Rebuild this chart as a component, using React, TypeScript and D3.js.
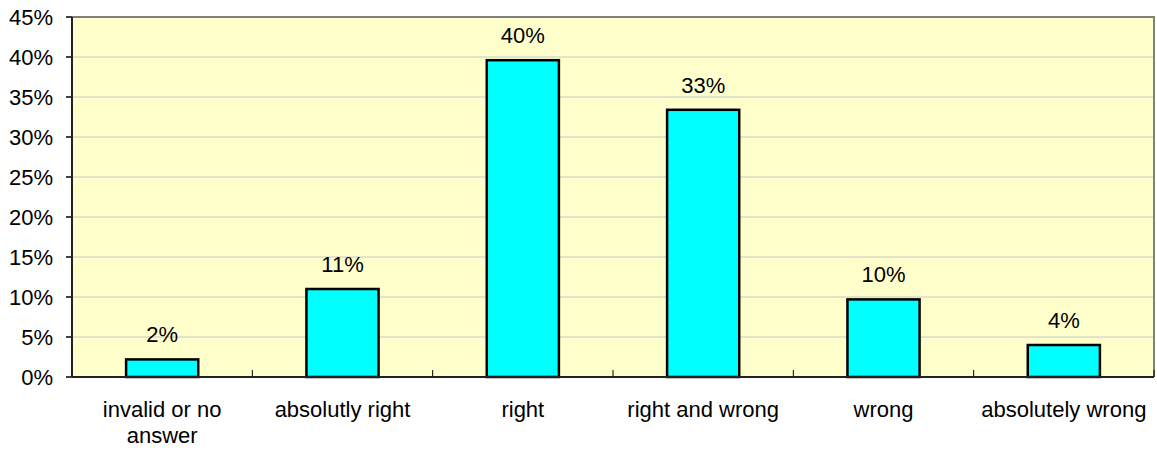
import * as d3 from 'd3';

const categories = [
  ['invalid or no', 'answer'],
  ['absolutly right'],
  ['right'],
  ['right and wrong'],
  ['wrong'],
  ['absolutely wrong'],
];
const values = [2.2, 11, 39.6, 33.4, 9.7, 4.0];
const yTicks = [0, 5, 10, 15, 20, 25, 30, 35, 40, 45];

const W = 1157;
const H = 450;
const margin = { top: 17, right: 3, bottom: 73, left: 72 };
const font = '"Liberation Sans", Arial, sans-serif';
const fs = 22;

export default function App() {
  const iw = W - margin.left - margin.right;
  const ih = H - margin.top - margin.bottom;

  const x = d3.scaleBand<number>()
    .domain(d3.range(values.length))
    .range([0, iw])
    .paddingInner(0.6)
    .paddingOuter(0.3);
  const step = iw / values.length;

  const y = d3.scaleLinear().domain([0, 45]).range([ih, 0]);

  return (
    <svg width={W} height={H} style={{ position: 'absolute', left: 0, top: 0, fontFamily: font }}>
      <g transform={`translate(${margin.left},${margin.top})`}>
        <rect x={0} y={0} width={iw} height={ih} fill="#FFFFCC" />
        {yTicks.slice(1, -1).map(t => (
          <line key={t} x1={0} x2={iw} y1={y(t)} y2={y(t)} stroke="#C8C8C8" strokeWidth={1} />
        ))}
        {/* top and right border */}
        <path d={`M0,${y(45)}H${iw}V${ih}`} fill="none" stroke="#808080" strokeWidth={2} />

        {values.map((v, i) => (
          <g key={i}>
            <rect
              x={x(i)}
              y={y(v)}
              width={x.bandwidth()}
              height={ih - y(v)}
              fill="#00FFFF"
              stroke="#000"
              strokeWidth={2.5}
            />
            <text
              x={(x(i) ?? 0) + x.bandwidth() / 2}
              y={y(v) - 17}
              textAnchor="middle"
              fontSize={fs}
              fill="#000"
            >
              {Math.round(v)}%
            </text>
          </g>
        ))}

        {/* category ticks */}
        {d3.range(1, values.length + 1).map(i => (
          <line key={i} x1={i * step} x2={i * step} y1={ih} y2={ih - 7} stroke="#000" strokeWidth={1} />
        ))}

        {/* y axis */}
        {yTicks.map(t => (
          <g key={t} transform={`translate(0,${y(t)})`}>
            <line x1={-6} x2={0} stroke="#000" strokeWidth={1.5} />
            <text x={-19} dy="0.35em" textAnchor="end" fontSize={fs} fill="#000">
              {t}%
            </text>
          </g>
        ))}
        <line x1={0} x2={0} y1={0} y2={ih} stroke="#222" strokeWidth={2} />
        <line x1={0} x2={iw} y1={ih} y2={ih} stroke="#222" strokeWidth={2} />

        {/* x labels */}
        {categories.map((lines, i) => (
          <text
            key={i}
            x={(i + 0.5) * step}
            y={ih + 40}
            textAnchor="middle"
            fontSize={fs}
            fill="#000"
          >
            {lines.map((l, j) => (
              <tspan key={j} x={(i + 0.5) * step} dy={j === 0 ? 0 : 26}>
                {l}
              </tspan>
            ))}
          </text>
        ))}
      </g>
    </svg>
  );
}
